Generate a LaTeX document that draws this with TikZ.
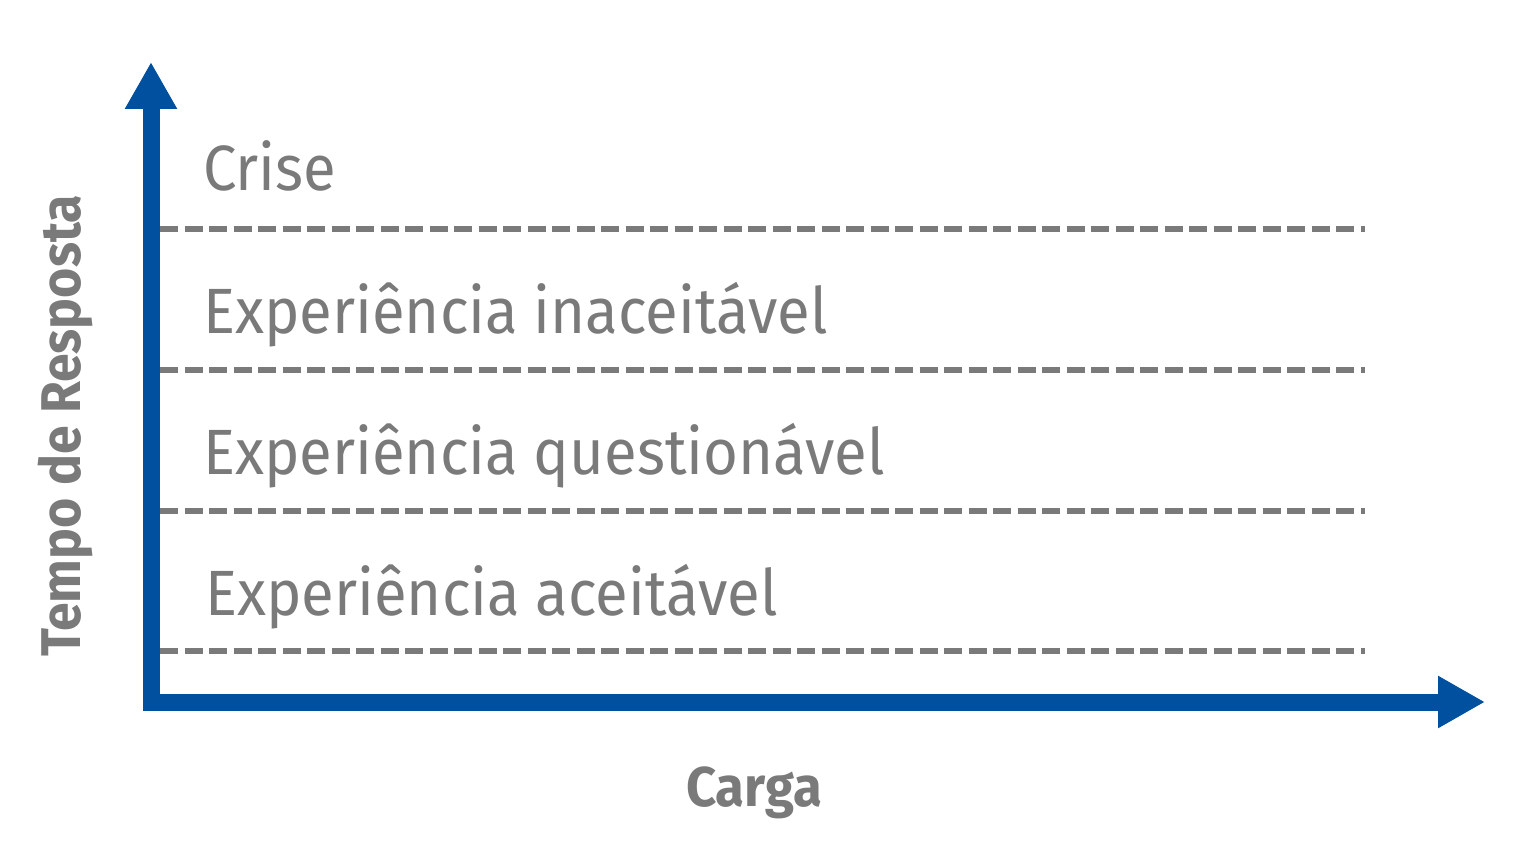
\documentclass[tikz,border=0pt]{standalone}
\usepackage{fontspec}
\setmainfont{Fira Sans}[FakeStretch=0.935]
\newfontfamily\boldlab{Fira Sans}[FakeStretch=0.94]
\newfontfamily\boldlabt{Fira Sans}[FakeStretch=0.925]
\usetikzlibrary{arrows.meta}
\definecolor{axisblue}{HTML}{0050A0}
\definecolor{txtgray}{HTML}{7A7A7A}
\tikzset{
  axis/.style={draw=axisblue, line width=17pt, -{Triangle[length=47pt,width=49pt]}},
  level/.style={draw=txtgray, line width=6.5pt, dash pattern=on 18pt off 6.5pt},
  zonelab/.style={anchor=base west, inner sep=0pt, text=txtgray, font=\fontsize{64}{64}\selectfont},
  axislab/.style={inner sep=0pt, text=txtgray, font=\boldlab\bfseries\fontsize{56}{56}\selectfont},
}
\begin{document}
\begin{tikzpicture}[x=1pt,y=-1pt]
\useasboundingbox (0,0) rectangle (1536,864);
\coordinate (o1) at (151,711);
\coordinate (ytip) at (151,62);
\coordinate (o2) at (143,702);
\coordinate (xtip) at (1485,702);
\foreach \yy [count=\i] in {229,370,511,651}{
  \coordinate (l\i a) at (160,\yy);
  \coordinate (l\i b) at (1365,\yy);
  \draw[level] (l\i a) -- (l\i b);
}
\draw[axis] (o1) -- (ytip);
\draw[axis] (o2) -- (xtip);
\node[zonelab] (crise) at (203,190) {Crise};
\node[zonelab] (inac) at (203,333) {Experiência inaceitável};
\node[zonelab] (quest) at (203,474) {Experiência questionável};
\node[zonelab] (acei) at (205,615) {Experiência aceitável};
\node[axislab, anchor=base] (carga) at (754,806) {Carga};
\node[axislab, font=\boldlabt\bfseries\fontsize{56}{56}\selectfont, rotate=90, anchor=base] (tempo) at (80,426) {Tempo de Resposta};
\end{tikzpicture}
\end{document}
